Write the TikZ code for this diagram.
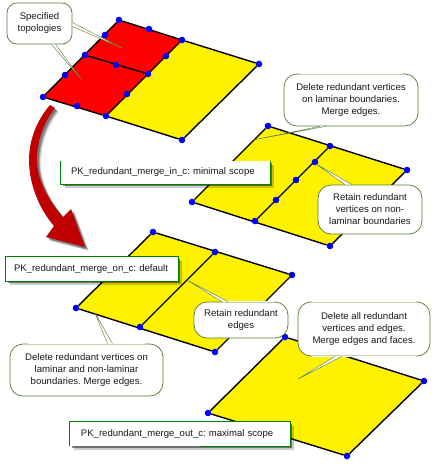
\documentclass[tikz,border=0pt]{standalone}
\usepackage{fontspec}
\setmainfont{Liberation Sans}
\usetikzlibrary{shadows}
\pgfdeclarelayer{sheets}
\pgfsetlayers{sheets,main}
\definecolor{bubblegreen}{RGB}{84,122,50}
\definecolor{boxgreen}{RGB}{0,128,0}
\definecolor{arrowred}{RGB}{192,0,0}
\tikzset{
  vtx/.style={circle,fill=blue,inner sep=0pt,minimum size=6.6pt},
  edge/.style={black,line width=1.4pt},
  bubble/.style={draw=bubblegreen,line width=0.7pt,fill=white,rounded corners=13pt,align=center,
    inner sep=0pt,text=black!90,font=\fontsize{9.6}{12}\selectfont},
  scopebox/.style={fill=white,inner sep=0pt,anchor=center,text=black!90,font=\fontsize{9.55}{12}\selectfont,
    general shadow={shadow xshift=2pt,shadow yshift=-2pt,fill=black,opacity=.45},
    general shadow={shadow xshift=4pt,shadow yshift=-4pt,fill=black,opacity=.2}},
  boxline/.style={boxgreen,line width=0.9pt},
  wedge/.style={draw=bubblegreen,line width=0.4pt,fill=white},
  gapline/.style={white,line width=1.6pt}
}
\begin{document}
\frenchspacing
\begin{tikzpicture}[x=1pt,y=-1pt]
  \useasboundingbox (0,0) rectangle (438,467);
  \path
    (43,97) node[vtx] (a1){}
    (65,75) node[vtx] (a2){}
    (85,55) node[vtx] (a3){}
    (105,35) node[vtx] (a4){}
    (119,20) node[vtx] (a5){}
    (149,29) node[vtx] (a6){}
    (182,40) node[vtx] (a7){}
    (166,56) node[vtx] (a8){}
    (148,74) node[vtx] (a9){}
    (127,94) node[vtx] (a10){}
    (106,116) node[vtx] (a11){}
    (77,106) node[vtx] (a12){}
    (116,65) node[vtx] (a13){}
    (259,64) node[vtx] (a14){}
    (182,140) node[vtx] (a15){};
  \path
    (268,126) node[vtx] (b1){}
    (330,146) node[vtx] (b2){}
    (407,170) node[vtx] (b3){}
    (330,246) node[vtx] (b4){}
    (255,221) node[vtx] (b5){}
    (192,202) node[vtx] (b6){}
    (315,162) node[vtx] (b7){}
    (296,180) node[vtx] (b8){}
    (276,200) node[vtx] (b9){}
    (153,232) node[vtx] (c1){}
    (215,252) node[vtx] (c2){}
    (292,275) node[vtx] (c3){}
    (215,352) node[vtx] (c4){}
    (140,327) node[vtx] (c5){}
    (76,308) node[vtx] (c6){}
    (285,337) node[vtx] (d1){}
    (424,381) node[vtx] (d2){}
    (347,456) node[vtx] (d3){}
    (208,413) node[vtx] (d4){};
  \begin{pgfonlayer}{sheets}
    \fill[yellow] (a7.center) -- (a14.center) -- (a15.center) -- (a11.center) -- cycle;
    \fill[red] (a1.center) -- (a5.center) -- (a7.center) -- (a11.center) -- cycle;
    \fill[yellow] (b1.center) -- (b3.center) -- (b4.center) -- (b6.center) -- cycle;
    \fill[yellow] (c1.center) -- (c3.center) -- (c4.center) -- (c6.center) -- cycle;
    \fill[yellow] (d1.center) -- (d2.center) -- (d3.center) -- (d4.center) -- cycle;
    \begin{scope}[edge]
      \draw (a1) to (a5);
      \draw (a5) to (a7);
      \draw (a7) to (a11);
      \draw (a11) to (a1);
      \draw (a3) to (a9);
      \draw (a7) to (a14);
      \draw (a14) to (a15);
      \draw (a15) to (a11);
      \draw (b1) to (b3);
      \draw (b3) to (b4);
      \draw (b4) to (b6);
      \draw (b6) to (b1);
      \draw (b2) to (b5);
      \draw (c1) to (c3);
      \draw (c3) to (c4);
      \draw (c4) to (c6);
      \draw (c6) to (c1);
      \draw (c2) to (c5);
      \draw (d1) to (d2);
      \draw (d2) to (d3);
      \draw (d3) to (d4);
      \draw (d4) to (d1);
    \end{scope}
  \end{pgfonlayer}
  \foreach \dx/\op in {4/.12,3/.22,2/.3}
    \fill[black,opacity=\op,shift={(\dx,\dx)}]
      (50,105) .. controls (37,120) and (29,140) .. (29,160)
      .. controls (29,185) and (40,210) .. (54,226) -- (46,237) -- (85,247) -- (71,209) -- (63,217)
      .. controls (48,200) and (37,180) .. (37,160)
      .. controls (37,140) and (44,122) .. (55,108) -- cycle;
  \fill[arrowred]
    (50,105) .. controls (37,120) and (29,140) .. (29,160)
    .. controls (29,185) and (40,210) .. (54,226) -- (46,237) -- (85,247) -- (71,209) -- (63,217)
    .. controls (48,200) and (37,180) .. (37,160)
    .. controls (37,140) and (44,122) .. (55,108) -- cycle;
  \node[scopebox,minimum width=209pt,minimum height=23pt,text width=189pt] (boxin) at (165.5,172.5)
    {\mbox{PK\_redundant\_merge\_in\_c: minimal scope}};
  \node[scopebox,minimum width=172pt,minimum height=24pt,text width=156pt] (boxon) at (92,269)
    {\mbox{PK\_redundant\_merge\_on\_c: default}};
  \node[scopebox,minimum width=220pt,minimum height=24pt,text width=198pt] (boxout) at (180,434)
    {\mbox{PK\_redundant\_merge\_out\_c: maximal scope}};
  \draw[boxline] (boxin.north west) -- (boxin.south west) -- (boxin.south east) -- (boxin.north east);
  \draw[boxline] (boxon.north west) rectangle (boxon.south east);
  \draw[boxline] (boxout.south west) -- (boxout.north west) -- (boxout.north east) -- (boxout.south east) -- ([xshift=-90pt]boxout.south east);
  \node[bubble,rounded corners=10pt,minimum width=65pt,minimum height=41pt] (specified) at (39.5,23.5) {Specified\\topologies};
  \node[bubble,minimum width=134pt,minimum height=52pt] (lamdelete) at (351,100) {Delete redundant vertices\\on laminar boundaries.\\Merge edges.};
  \node[bubble,minimum width=104pt,minimum height=49pt] (retainverts) at (370,209.5) {Retain redundant\\vertices on non-\\laminar boundaries};
  \node[bubble,minimum width=94pt,minimum height=36pt] (retainedges) at (241,320) {Retain redundant\\edges};
  \node[bubble,minimum width=132pt,minimum height=54pt] (deleteall) at (364,329) {Delete all redundant\\vertices and edges.\\Merge edges and faces.};
  \node[bubble,minimum width=153pt,minimum height=52pt] (deletemixed) at (86.5,370) {Delete redundant vertices on\\laminar and non-laminar\\boundaries. Merge edges.};
  \draw[gapline] ([xshift=14pt]deleteall.north west) -- ([xshift=-14pt]deleteall.north east);
  \draw[gapline] ([xshift=14pt]deleteall.south west) -- ([xshift=-14pt]deleteall.south east);
  \draw[gapline] ([xshift=18pt]deletemixed.north west) -- ([xshift=-18pt]deletemixed.north east);
  \draw[gapline] ([xshift=16pt]lamdelete.north west) -- ([xshift=-16pt]lamdelete.north east);
  \draw[gapline] ([xshift=30pt]retainedges.north west) -- ([xshift=-14pt]retainedges.north east);
  \coordinate (t1) at (122,48);
  \coordinate (t2) at (81,79);
  \coordinate (t3) at (253,140);
  \coordinate (t4) at (316,164);
  \coordinate (t5) at (187,280);
  \coordinate (t6) at (298,379);
  \coordinate (t7) at (95,313);
  \draw[wedge] ([yshift=-3pt]specified.east) -- (t1) -- ([yshift=1pt]specified.east);
  \draw[wedge] ([xshift=12pt]specified.south) -- (t2) -- ([xshift=16pt]specified.south);
  \draw[wedge] ([xshift=-31pt]lamdelete.south) -- (t3) -- ([xshift=-25pt]lamdelete.south);
  \draw[wedge] ([xshift=-25pt]retainverts.north) -- (t4) -- ([xshift=-18pt]retainverts.north);
  \draw[wedge] ([xshift=-19pt]retainedges.north) -- (t5) -- ([xshift=-13pt]retainedges.north);
  \draw[wedge] ([xshift=-29pt]deleteall.south) -- (t6) -- ([xshift=-22pt]deleteall.south);
  \draw[wedge] ([xshift=21pt]deletemixed.north) -- (t7) -- ([xshift=26pt]deletemixed.north);
\end{tikzpicture}
\end{document}
